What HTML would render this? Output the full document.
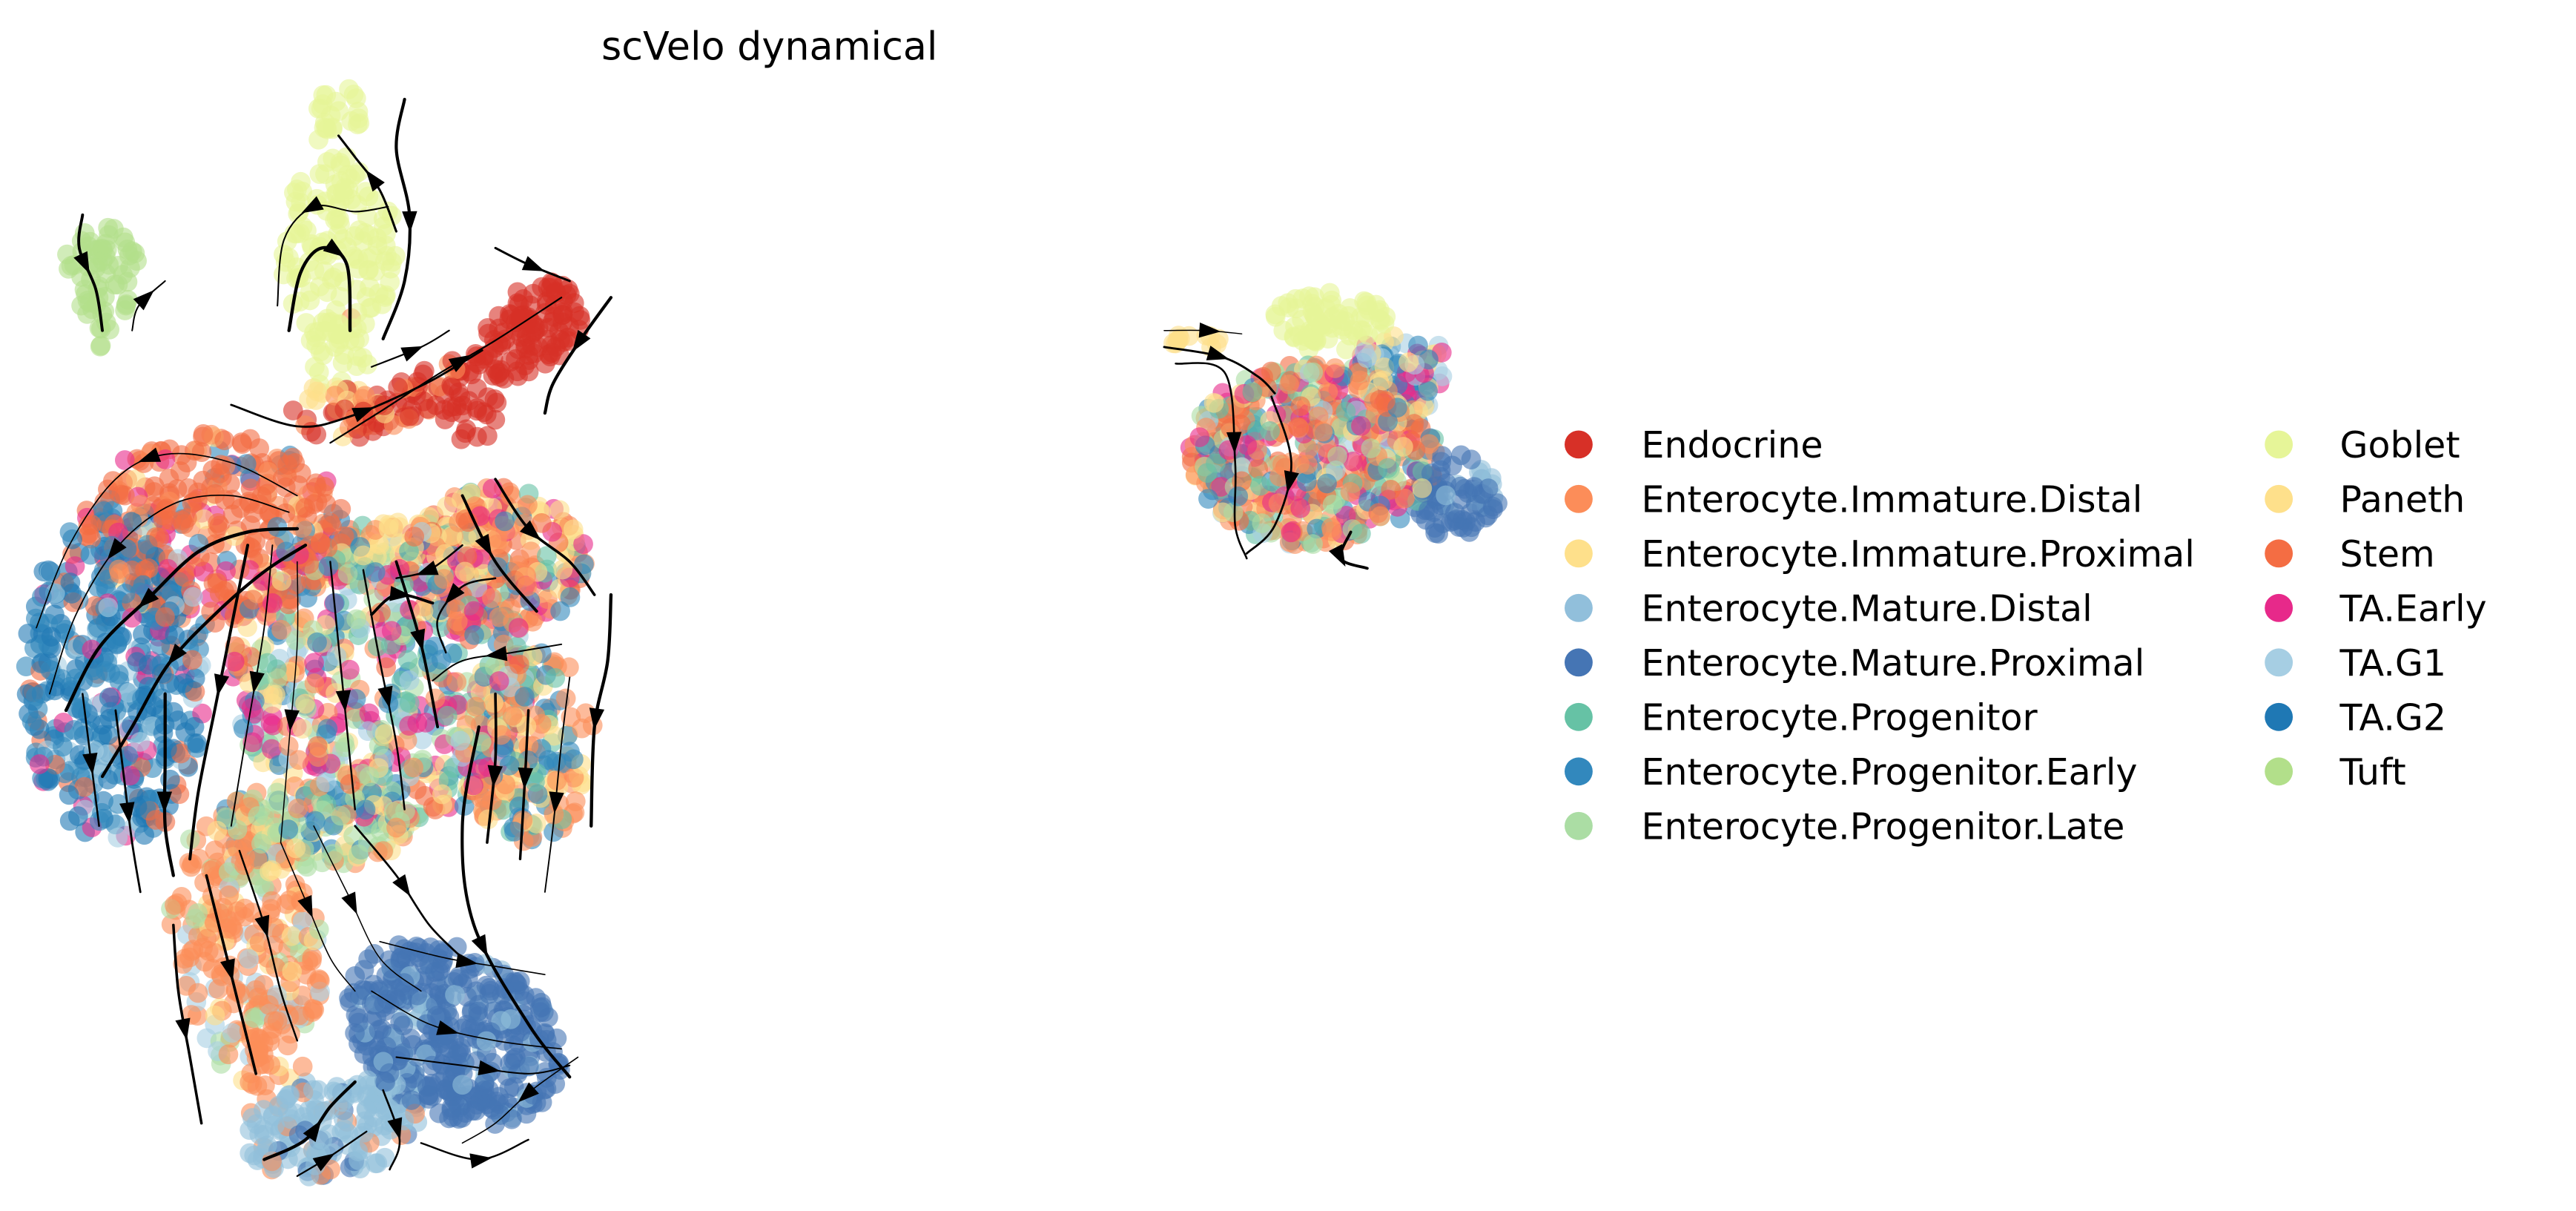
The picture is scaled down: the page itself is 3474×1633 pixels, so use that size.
<!DOCTYPE html>
<html><head><meta charset="utf-8"><style>
html,body{margin:0;padding:0;background:#fff;}
svg{display:block;}
</style></head><body>
<svg id="s" xmlns="http://www.w3.org/2000/svg" width="3474" height="1633" viewBox="0 0 1560 733">
<rect width="1560" height="733" fill="#fff"/>
<g id="pts"></g>
<g id="lines" fill="none" stroke="#000" stroke-linecap="round"></g>
<g id="arrows" fill="#000"></g>
<text x="466" y="36" text-anchor="middle" font-family="DejaVu Sans, Liberation Sans, sans-serif" font-size="23.5">scVelo dynamical</text>
<g font-family="DejaVu Sans, Liberation Sans, sans-serif" font-size="22" fill="#000">
<circle cx="956" cy="269" r="8.5" fill="#d73027"/><text x="994" y="277">Endocrine</text>
<circle cx="956" cy="302" r="8.5" fill="#fc8d59"/><text x="994" y="310">Enterocyte.Immature.Distal</text>
<circle cx="956" cy="335" r="8.5" fill="#fee08b"/><text x="994" y="343">Enterocyte.Immature.Proximal</text>
<circle cx="956" cy="368" r="8.5" fill="#91bfdb"/><text x="994" y="376">Enterocyte.Mature.Distal</text>
<circle cx="956" cy="401" r="8.5" fill="#4575b4"/><text x="994" y="409">Enterocyte.Mature.Proximal</text>
<circle cx="956" cy="434" r="8.5" fill="#66c2a5"/><text x="994" y="442">Enterocyte.Progenitor</text>
<circle cx="956" cy="467" r="8.5" fill="#3288bd"/><text x="994" y="475">Enterocyte.Progenitor.Early</text>
<circle cx="956" cy="500" r="8.5" fill="#abdda4"/><text x="994" y="508">Enterocyte.Progenitor.Late</text>
<circle cx="1380" cy="269" r="8.5" fill="#e6f598"/><text x="1417" y="277">Goblet</text>
<circle cx="1380" cy="302" r="8.5" fill="#fee08b"/><text x="1417" y="310">Paneth</text>
<circle cx="1380" cy="335" r="8.5" fill="#f46d43"/><text x="1417" y="343">Stem</text>
<circle cx="1380" cy="368" r="8.5" fill="#e7298a"/><text x="1417" y="376">TA.Early</text>
<circle cx="1380" cy="401" r="8.5" fill="#a6cee3"/><text x="1417" y="409">TA.G1</text>
<circle cx="1380" cy="434" r="8.5" fill="#1f78b4"/><text x="1417" y="442">TA.G2</text>
<circle cx="1380" cy="467" r="8.5" fill="#b2df8a"/><text x="1417" y="475">Tuft</text>
</g>
</svg>
<script>
(function(){
var NS="http://www.w3.org/2000/svg";
var s=12345;function R(){s|=0;s=s+0x6D2B79F5|0;var t=Math.imul(s^s>>>15,1|s);t=t+Math.imul(t^t>>>7,61|t)^t;return((t^t>>>14)>>>0)/4294967296;}
var C={endo:"#d73027",idist:"#fc8d59",iprox:"#fee08b",mdist:"#91bfdb",mprox:"#4575b4",prog:"#66c2a5",early:"#3288bd",late:"#abdda4",gob:"#e6f598",pan:"#fee08b",stem:"#f46d43",tae:"#e7298a",g1:"#a6cee3",g2:"#1f78b4",tuft:"#b2df8a"};
var mix={tae:.2,prog:.15,late:.12,early:.15,idist:.12,iprox:.1,g1:.08,stem:.08};
var regions=[
[205,75,14,25,0,25,{gob:1}],
[205,150,35,55,0,130,{gob:1}],
[205,215,18,25,0,30,{gob:.8,idist:.2}],
[62,165,24,28,0,55,{tuft:1}],
[60,195,10,15,0,10,{tuft:1}],
[320,200,38,24,-35,110,{endo:1}],
[255,238,48,12,-25,55,{endo:.8,idist:.2}],
[283,250,20,18,0,25,{endo:1}],
[205,250,30,18,0,40,{idist:.4,endo:.3,iprox:.3}],
[130,320,80,58,0,340,{stem:.7,tae:.08,early:.1,iprox:.05,idist:.07}],
[70,410,55,105,0,430,{g2:.45,early:.3,g1:.1,stem:.07,tae:.08}],
[230,410,90,95,0,620,mix],
[300,340,55,45,0,250,{idist:.3,stem:.15,iprox:.15,tae:.15,early:.15,prog:.1}],
[320,450,40,60,0,210,{idist:.4,early:.25,iprox:.2,prog:.15}],
[250,330,40,15,0,40,{iprox:1}],
[190,500,60,25,0,150,{late:.4,iprox:.2,idist:.2,early:.2}],
[150,575,45,85,-10,290,{idist:.6,late:.12,iprox:.15,g1:.13}],
[275,625,70,50,30,420,{mprox:.85,mdist:.15}],
[200,682,55,30,-10,160,{mdist:.8,mprox:.1,idist:.1}],
[805,195,35,18,0,75,{gob:1}],
[795,275,75,55,0,520,{idist:.2,stem:.15,tae:.15,early:.15,prog:.12,late:.1,iprox:.08,g1:.05}],
[850,225,30,25,0,90,{early:.5,g1:.2,iprox:.15,tae:.15}],
[880,300,28,25,0,85,{mprox:.9,mdist:.1}],
[728,205,20,6,0,12,{pan:1}]
];
var pts=[];
regions.forEach(function(r){
 var keys=Object.keys(r[6]),tot=0;keys.forEach(function(k){tot+=r[6][k];});
 var a=r[4]*Math.PI/180;
 for(var i=0;i<r[5];i++){
  var t=R()*2*Math.PI,d=Math.sqrt(R());
  var x=Math.cos(t)*d*r[2],y=Math.sin(t)*d*r[3];
  var px=r[0]+x*Math.cos(a)-y*Math.sin(a),py=r[1]+x*Math.sin(a)+y*Math.cos(a);
  var u=R()*tot,k=keys[0];for(var j=0;j<keys.length;j++){u-=r[6][keys[j]];if(u<=0){k=keys[j];break;}}
  pts.push([px,py,C[k],R()]);
 }
});
pts.sort(function(a,b){return a[3]-b[3];});
var g=document.getElementById("pts"),h="";
pts.forEach(function(p){h+='<circle cx="'+p[0].toFixed(1)+'" cy="'+p[1].toFixed(1)+'" r="6" fill="'+p[2]+'" fill-opacity="0.6"/>';});
g.innerHTML=h;
var L=[
[[240,140],[230,115],[215,95],[205,82]],
[[235,125],[215,128],[190,125],[172,145],[168,185]],
[[245,60],[240,90],[248,130],[245,170],[232,205]],
[[175,200],[182,165],[195,150],[210,160],[212,200]],
[[50,130],[48,150],[58,175],[62,200]],
[[80,200],[84,185],[100,170]],
[[370,180],[352,205],[335,232],[330,250]],
[[300,150],[320,160],[345,170]],
[[140,245],[180,258],[212,252],[258,232],[292,212]],
[[200,268],[232,248],[266,226],[300,206],[340,180]],
[[225,222],[255,210],[272,200]],
[[180,300],[140,280],[100,275],[70,290],[42,330],[22,380]],
[[175,310],[140,300],[105,305],[72,330],[46,372],[30,420]],
[[180,320],[150,322],[120,334],[90,362],[60,392],[40,430]],
[[185,330],[160,346],[130,372],[102,402],[80,440],[62,470]],
[[150,330],[140,380],[130,430],[120,480],[115,520]],
[[165,330],[160,380],[150,440],[140,500]],
[[180,340],[180,390],[175,450],[170,510]],
[[200,340],[205,390],[210,440],[215,490]],
[[220,345],[230,400],[240,450],[245,490]],
[[240,340],[255,390],[265,440]],
[[70,430],[75,470],[80,510],[85,540]],
[[50,420],[55,460],[60,500]],
[[100,420],[100,460],[100,500],[105,530]],
[[300,290],[320,320],[345,340],[360,360]],
[[280,300],[300,340],[325,370]],
[[370,360],[368,400],[360,440],[358,500]],
[[345,410],[340,450],[335,500],[330,540]],
[[320,430],[318,470],[315,520]],
[[300,420],[300,460],[295,510]],
[[280,330],[260,345],[240,350]],
[[340,390],[310,395],[280,400],[262,412]],
[[300,350],[280,355],[265,375],[270,395]],
[[225,372],[240,360],[262,365]],
[[105,560],[108,600],[115,640],[122,680]],
[[125,530],[135,570],[145,610],[155,650]],
[[145,515],[160,560],[170,600],[180,630]],
[[170,510],[185,545],[200,580],[215,600]],
[[190,500],[210,540],[230,580],[255,600]],
[[215,500],[240,530],[260,560],[280,580]],
[[230,570],[270,580],[300,585],[330,590]],
[[225,600],[260,620],[300,630],[340,635]],
[[240,640],[280,645],[320,650],[345,645]],
[[350,640],[322,660],[300,680],[280,692]],
[[255,692],[290,702],[320,690]],
[[160,702],[185,690],[200,670],[215,655]],
[[180,712],[200,700],[222,685]],
[[290,440],[280,500],[287,560],[320,620],[345,652]],
[[232,660],[242,690],[236,708]],
[[705,200],[730,200],[752,202]],
[[705,210],[740,216],[762,228],[772,238]],
[[712,220],[742,226],[748,280],[748,318],[755,338]],
[[770,240],[782,280],[772,318],[755,335]],
[[818,322],[812,338],[828,344]]
];
var lg=document.getElementById("lines"),ag=document.getElementById("arrows");
function cr(p){var d="M"+p[0][0]+","+p[0][1];for(var i=0;i<p.length-1;i++){var p0=p[i-1]||p[i],p1=p[i],p2=p[i+1],p3=p[i+2]||p2;
d+=" C"+(p1[0]+(p2[0]-p0[0])/6)+","+(p1[1]+(p2[1]-p0[1])/6)+" "+(p2[0]-(p3[0]-p1[0])/6)+","+(p2[1]-(p3[1]-p1[1])/6)+" "+p2[0]+","+p2[1];}return d;}
L.forEach(function(p,i){
 var e=document.createElementNS(NS,"path");e.setAttribute("d",cr(p));e.setAttribute("stroke-width",(0.6+R()*1.4).toFixed(2));lg.appendChild(e);
 var len=e.getTotalLength(),m=len*(0.4+R()*0.2),a=e.getPointAtLength(m),b=e.getPointAtLength(Math.min(len,m+2));
 var ang=Math.atan2(b.y-a.y,b.x-a.x)*180/Math.PI;
 var t=document.createElementNS(NS,"polygon");t.setAttribute("points","6.5,0 -6.5,-4.6 -6.5,4.6");
 t.setAttribute("transform","translate("+a.x.toFixed(1)+","+a.y.toFixed(1)+") rotate("+ang.toFixed(1)+")");ag.appendChild(t);
});
})();
</script>
</body></html>
